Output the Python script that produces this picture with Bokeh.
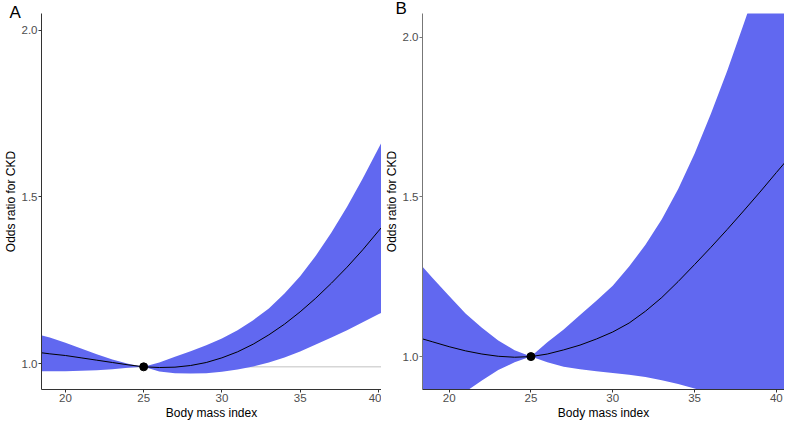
from bokeh.plotting import figure
from bokeh.layouts import row
from bokeh.models import Range1d, Span, FixedTicker, NumeralTickFormatter
from bokeh.embed import file_html
from bokeh.resources import INLINE

# ---------------- data ----------------
bmi_a = [18.5, 19, 20, 21, 22, 23, 24, 25, 26, 27, 28, 29, 30, 31, 32, 33, 34, 35, 36, 37, 38, 39, 40, 40.2]
or_a = [1.032, 1.029, 1.024, 1.017, 1.010, 1.003, 0.996, 0.990, 0.988, 0.989, 0.994, 1.003, 1.017,
        1.035, 1.058, 1.086, 1.118, 1.155, 1.196, 1.241, 1.289, 1.341, 1.397, 1.408]
upper_a = [1.084, 1.078, 1.062, 1.045, 1.028, 1.012, 0.999, 0.990, 1.003, 1.020, 1.037, 1.055, 1.075,
           1.100, 1.130, 1.165, 1.210, 1.262, 1.323, 1.393, 1.470, 1.555, 1.645, 1.663]
lower_a = [0.977, 0.977, 0.977, 0.978, 0.980, 0.983, 0.987, 0.990, 0.976, 0.971, 0.970, 0.971, 0.975,
           0.982, 0.991, 1.003, 1.018, 1.036, 1.057, 1.078, 1.100, 1.124, 1.148, 1.152]
ref_bmi_a = [25]
ref_or_a = [0.99]
ref_line_a = 0.99

bmi_b = [18.4, 19, 20, 21, 22, 23, 24, 25, 26, 27, 28, 29, 30, 31, 32, 33, 34, 35, 36, 37, 38, 39, 40, 40.5]
or_b = [1.055, 1.046, 1.031, 1.018, 1.008, 1.001, 0.998, 1.000, 1.008, 1.021, 1.036, 1.055, 1.077,
        1.105, 1.142, 1.185, 1.235, 1.288, 1.342, 1.398, 1.456, 1.515, 1.576, 1.606]
upper_b = [1.280, 1.245, 1.190, 1.135, 1.090, 1.050, 1.020, 1.000, 1.045, 1.085, 1.130, 1.175, 1.222,
           1.282, 1.350, 1.430, 1.525, 1.635, 1.760, 1.895, 2.040, 2.190, 2.345, 2.425]
lower_b = [0.800, 0.820, 0.855, 0.890, 0.925, 0.958, 0.982, 1.000, 0.982, 0.968, 0.960, 0.954, 0.949,
           0.943, 0.936, 0.926, 0.914, 0.900, 0.885, 0.870, 0.855, 0.840, 0.825, 0.818]
ref_bmi_b = [25]
ref_or_b = [1.0]

x_ticks = [20, 25, 30, 35, 40]
y_ticks = [1.0, 1.5, 2.0]
panel_tags = ["A", "B"]
x_title = "Body mass index"
y_title = "Odds ratio for CKD"

BAND = "#6168F0"
FONT = "Liberation Sans"


def make_panel(tag, bmi, orv, lo, hi, rx, ry, xr, yr, width, mbr, mbt,
               ref_line=None, yaxis_color="#333333", tag_dx=-28, tag_standoff=-8):
    p = figure(width=width, height=422, output_backend="svg", toolbar_location=None,
               x_range=Range1d(*xr), y_range=Range1d(*yr),
               min_border_left=0, min_border_right=mbr, min_border_top=mbt,
               min_border_bottom=0)
    p.outline_line_color = None
    p.xgrid.visible = False
    p.ygrid.visible = False
    p.background_fill_color = "white"
    p.border_fill_color = "white"

    p.title.text = tag
    p.title.align = "left"
    p.title.offset = tag_dx
    p.title.standoff = tag_standoff
    p.title.text_font = FONT
    p.title.text_font_size = "17px"
    p.title.text_font_style = "normal"
    p.title.text_color = "black"
    p.title.text_line_height = 1.0

    if ref_line is not None:
        p.add_layout(Span(location=ref_line, dimension="width", line_color="#d6d6d6",
                          line_width=1.5, level="underlay"))

    p.varea(x=bmi, y1=lo, y2=hi, fill_color=BAND, fill_alpha=1.0)
    p.line(bmi, orv, line_color="black", line_width=1)
    p.scatter(rx, ry, size=8, color="black")

    for ax in (p.xaxis[0], p.yaxis[0]):
        ax.major_label_text_font = FONT
        ax.major_label_text_font_size = "11.5px"
        ax.major_label_text_color = "#4d4d4d"
        ax.major_label_text_line_height = 1.0
        ax.minor_tick_line_color = None
        ax.major_tick_in = 0
        ax.major_tick_out = 3
        ax.major_label_standoff = 1
        ax.axis_line_width = 1
        ax.major_tick_line_width = 1
        ax.axis_label_text_font = FONT
        ax.axis_label_text_font_size = "12px"
        ax.axis_label_text_font_style = "normal"
        ax.axis_label_text_color = "black"
        ax.axis_label_text_line_height = 1.0
        ax.axis_label_standoff = 1
    p.xaxis[0].axis_label = x_title
    p.yaxis[0].axis_label = y_title
    p.xaxis[0].ticker = FixedTicker(ticks=x_ticks)
    p.yaxis[0].ticker = FixedTicker(ticks=y_ticks)
    p.yaxis[0].formatter = NumeralTickFormatter(format="0.0")
    p.xaxis[0].axis_line_color = "#333333"
    p.xaxis[0].major_tick_line_color = "#333333"
    p.yaxis[0].axis_line_color = yaxis_color
    p.yaxis[0].major_tick_line_color = yaxis_color
    return p


pa = make_panel(panel_tags[0], bmi_a, or_a, lower_a, upper_a, ref_bmi_a, ref_or_a,
                (18.47, 40.2), (0.922, 2.05), 381, 0, 0,
                ref_line=ref_line_a, yaxis_color="#333333", tag_dx=-32, tag_standoff=-16)
pb = make_panel(panel_tags[1], bmi_b, or_b, lower_b, upper_b, ref_bmi_b, ref_or_b,
                (18.37, 40.5), (0.897, 2.074), 403, 0, 7,
                ref_line=None, yaxis_color="#777777", tag_dx=-27, tag_standoff=-8)

layout = row(pa, pb)
open("out.html", "w").write(file_html(layout, INLINE))
